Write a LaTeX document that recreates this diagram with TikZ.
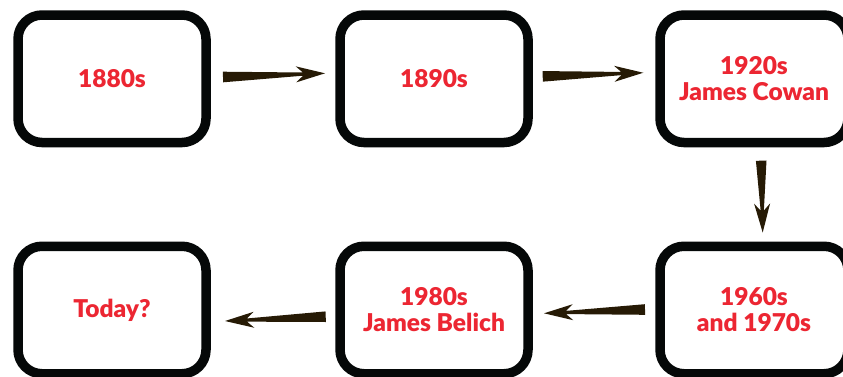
\documentclass[tikz,border=0pt]{standalone}
\usepackage{fontspec}
\setmainfont{Lato}
\newfontfamily\labfont{Lato Black}
\usetikzlibrary{calc}
\definecolor{boxline}{RGB}{5,8,8}
\definecolor{arrowcol}{RGB}{38,26,5}
\definecolor{labred}{RGB}{236,38,50}
\tikzset{
  era/.style={draw=boxline, line width=9.5pt, rounded corners=24pt, fill=white,
    minimum width=188pt, minimum height=127.5pt, inner sep=0pt, outer sep=0pt,
    align=center, text=labred, font=\fontsize{24.5}{26}\labfont},
  arrowfill/.style={fill=arrowcol}
}
\newcommand\taparrow[2]{%
  \pgfpointdiff{\pgfpointanchor{#1}{center}}{\pgfpointanchor{#2}{center}}%
  \pgfgetlastxy{\tdx}{\tdy}%
  \pgfmathsetmacro\tang{atan2(\tdy,\tdx)}%
  \pgfmathsetmacro\tlen{veclen(\tdx,\tdy)}%
  \fill[arrowfill, shift={(#1)}, rotate=\tang]
    (0pt,5.3pt) -- (\tlen pt-22pt,1.6pt) -- (\tlen pt-29pt,8pt) -- (\tlen pt,0pt)
    -- (\tlen pt-29pt,-8pt) -- (\tlen pt-22pt,-1.6pt) -- (0pt,-5.3pt) -- cycle;
}
\begin{document}
\begin{tikzpicture}[x=1pt,y=-1pt]
\useasboundingbox (0,0) rectangle (843,376);
\node[era] (b1) at (112,78.75) {1880s};
\node[era] (b2) at (434,78.75) {1890s};
\node[era] (b3) at (754,78.75) {1920s\\James Cowan};
\node[era] (b4) at (112,310) {Today?};
\node[era] (b5) at (434,310) {1980s\\James Belich};
\node[era] (b6) at (754,310) {1960s\\and 1970s};
\coordinate (a1s) at ($(b1.east)+(17,-1.75)$);
\coordinate (a1e) at ($(b2.west)+(-15,-5.45)$);
\coordinate (a2s) at ($(b2.east)+(14.7,-2.4)$);
\coordinate (a2e) at ($(b3.west)+(-16.7,-6)$);
\coordinate (a3s) at ($(b3.south)+(7.2,18.2)$);
\coordinate (a3e) at ($(b6.north)+(8.7,-13.7)$);
\coordinate (a4s) at ($(b6.west)+(-15,-0.5)$);
\coordinate (a4e) at ($(b5.east)+(16,3.3)$);
\coordinate (a5s) at ($(b5.west)+(-14.3,6.7)$);
\coordinate (a5e) at ($(b4.east)+(19,11)$);
\taparrow{a1s}{a1e}
\taparrow{a2s}{a2e}
\taparrow{a3s}{a3e}
\taparrow{a4s}{a4e}
\taparrow{a5s}{a5e}
\end{tikzpicture}
\end{document}
